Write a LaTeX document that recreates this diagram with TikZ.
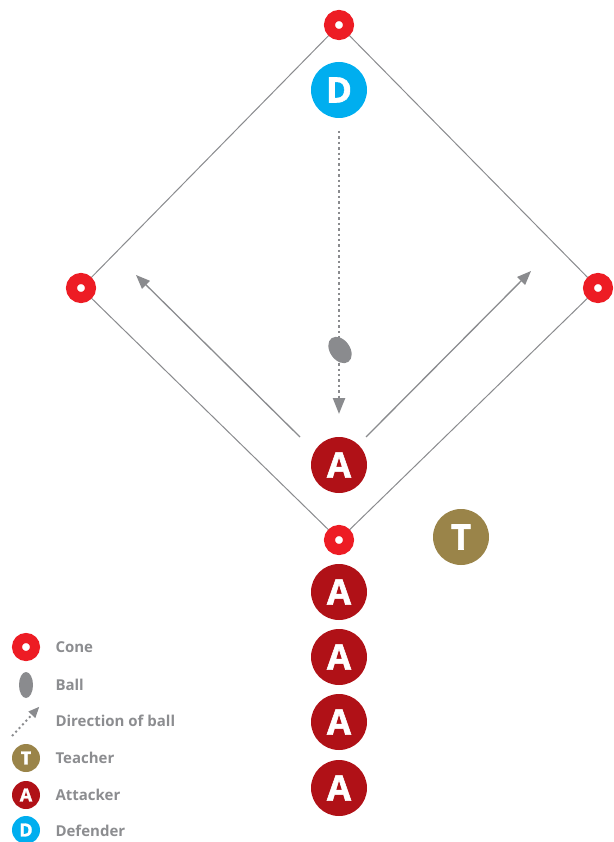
\documentclass[tikz,border=0pt]{standalone}
\usepackage{fontspec}
\setmainfont{Open Sans}
\newfontfamily\heavyfont{Open Sans}[BoldFeatures={FakeBold=1.6}]
\usetikzlibrary{arrows.meta,shapes.geometric}
\definecolor{ConeRed}{HTML}{ED1C24}
\definecolor{DefBlue}{HTML}{00AEEF}
\definecolor{AttRed}{HTML}{B01117}
\definecolor{TeachGold}{HTML}{9A8449}
\definecolor{LineGrey}{HTML}{8A8B8E}
\definecolor{TextGrey}{HTML}{8C8D90}
\begin{document}
\begin{tikzpicture}[x=1pt,y=-1pt,
    cone/.style={circle,draw=ConeRed,fill=white,line width=11pt,minimum size=19pt,inner sep=0pt},
    smallcone/.style={circle,draw=ConeRed,fill=white,line width=10pt,minimum size=18pt,inner sep=0pt},
    player/.style={circle,minimum size=56pt,inner sep=0pt,text=white,font=\fontsize{35}{35}\heavyfont\bfseries},
    key/.style={circle,minimum size=28pt,inner sep=0pt,text=white,font=\fontsize{18}{18}\heavyfont\bfseries},
    ball/.style={ellipse,fill=LineGrey,inner sep=0pt},
    label/.style={anchor=west,text=TextGrey,font=\fontsize{15}{15}\selectfont\bfseries},
    side/.style={LineGrey,line width=1pt},
    run/.style={-{Triangle[length=14pt,width=11pt]},LineGrey,line width=1.3pt},
    pass/.style={-{Triangle[length=16pt,width=12pt,sep=2pt]},LineGrey,line width=2.4pt,dash pattern=on 2.4pt off 3pt}]
  \useasboundingbox (0,0) rectangle (613,842);
  % grid of cones
  \node[cone] (top) at (339,25) {};
  \node[cone] (left) at (81,288) {};
  \node[cone] (right) at (598,288) {};
  \node[cone] (bottom) at (339,540) {};
  \draw[side] (top) -- (left); \draw[side] (top) -- (right);
  \draw[side] (bottom) -- (left); \draw[side] (bottom) -- (right);
  % players
  \node[player,fill=DefBlue] (def) at (339,90) {D};
  \node[player,fill=AttRed] (att) at (339,465) {A};
  \node[player,fill=TeachGold] (teach) at (461,537) {T};
  \foreach \y [count=\i] in {592,657,722,788}
    \node[player,fill=AttRed] (queue\i) at (339,\y) {A};
  % ball and movement
  \coordinate (passstart) at (339,131);
  \coordinate (passend) at (339,416);
  \draw[pass] (passstart) -- (passend);
  \node[ball,minimum width=20pt,minimum height=29pt,rotate=35] (theball) at (340,350) {};
  \coordinate (runleft) at (136,275);
  \coordinate (runright) at (531,271);
  \draw[run] (300,437) -- (runleft);
  \draw[run] (366,437) -- (runright);
  % legend
  \node[smallcone] (kcone) at (26,647) {};
  \node[ball,minimum width=14pt,minimum height=26pt] (kball) at (26,685) {};
  \coordinate (karrowa) at (12,736);
  \coordinate (karrowb) at (40,706);
  \draw[pass,line width=2pt,-{Triangle[length=11pt,width=9pt,sep=1pt]},dash pattern=on 2pt off 3pt] (karrowa) -- (karrowb);
  \node[key,fill=TeachGold] (kteach) at (26,758) {T};
  \node[key,fill=AttRed] (katt) at (26,795) {A};
  \node[key,fill=DefBlue] (kdef) at (26,830) {D};
  \node[label] at (52,647) {Cone};
  \node[label] at (52,685) {Ball};
  \node[label] at (52,721) {Direction of ball};
  \node[label] at (52,758) {Teacher};
  \node[label] at (52,795) {Attacker};
  \node[label] at (52,831) {Defender};
\end{tikzpicture}
\end{document}
